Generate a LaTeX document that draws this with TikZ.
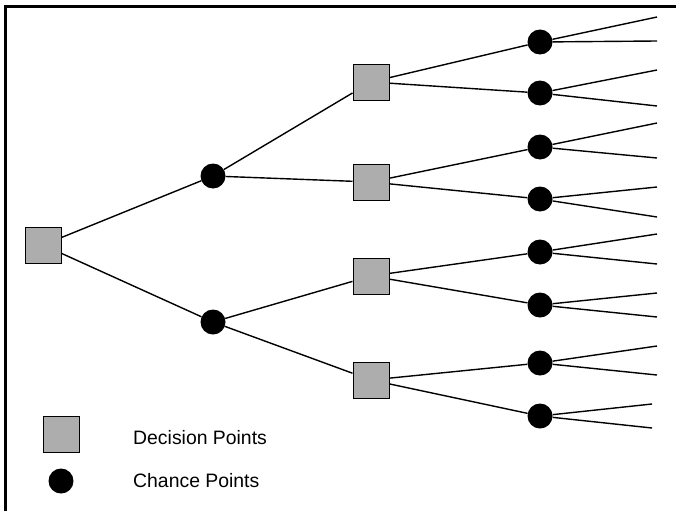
\documentclass[tikz,border=0pt]{standalone}
\usepackage{fontspec}
\setmainfont{Liberation Sans}
\begin{document}
\begin{tikzpicture}[x=1pt,y=-1pt,
  decision/.style={draw=black,line width=1pt,fill=black!32,minimum size=36pt,inner sep=0pt,shape=rectangle},
  chance/.style={circle,fill=black,minimum size=25pt,inner sep=0pt},
  branch/.style={line width=1.4pt},
  legendtext/.style={anchor=west,font=\fontsize{19.4}{22}\selectfont,inner sep=0pt}]
\useasboundingbox (0,0) rectangle (676,511);
% frame (top and left edges)
\draw[line width=2.6pt] (5.5,511) -- (5.5,6.5) -- (676,6.5);

% root decision
\node[decision] (r) at (43,245) {};
% first chance level
\node[chance] (a1) at (213,176) {};
\node[chance] (a2) at (213,322) {};
% second decision level
\node[decision] (d1) at (371,82) {};
\node[decision] (d2) at (371,182) {};
\node[decision] (d3) at (371,276) {};
\node[decision] (d4) at (371,380) {};
% second chance level
\node[chance] (c1) at (540,42) {};
\node[chance] (c2) at (540,93) {};
\node[chance] (c3) at (540,147) {};
\node[chance] (c4) at (540,199) {};
\node[chance] (c5) at (540,252) {};
\node[chance] (c6) at (540,305) {};
\node[chance] (c7) at (540,363) {};
\node[chance] (c8) at (540,416) {};
% outcome ends
\coordinate (e1a) at (657,17);  \coordinate (e1b) at (657,41);
\coordinate (e2a) at (657,70);  \coordinate (e2b) at (657,106);
\coordinate (e3a) at (657,123); \coordinate (e3b) at (657,158);
\coordinate (e4a) at (657,187); \coordinate (e4b) at (657,217);
\coordinate (e5a) at (657,234); \coordinate (e5b) at (657,264);
\coordinate (e6a) at (657,293); \coordinate (e6b) at (657,317);
\coordinate (e7a) at (657,346); \coordinate (e7b) at (657,375);
\coordinate (e8a) at (652,404); \coordinate (e8b) at (652,428);

% branches
\draw[branch] (r) -- (a1);
\draw[branch] (r) -- (a2);
\draw[branch] (a1) -- (d1);
\draw[branch] (a1) -- (d2);
\draw[branch] (a2) -- (d3);
\draw[branch] (a2) -- (d4);
\draw[branch] (d1) -- (c1);
\draw[branch] (d1) -- (c2);
\draw[branch] (d2) -- (c3);
\draw[branch] (d2) -- (c4);
\draw[branch] (d3) -- (c5);
\draw[branch] (d3) -- (c6);
\draw[branch] (d4) -- (c7);
\draw[branch] (d4) -- (c8);
\foreach \i in {1,...,8}{
  \draw[branch] (c\i) -- (e\i a);
  \draw[branch] (c\i) -- (e\i b);
}

% legend
\node[decision] (ld) at (61,434) {};
\node[chance] (lc) at (61,481) {};
\node[legendtext] (ldt) at (133,438) {Decision Points};
\node[legendtext] (lct) at (133,481) {Chance Points};
\end{tikzpicture}
\end{document}
